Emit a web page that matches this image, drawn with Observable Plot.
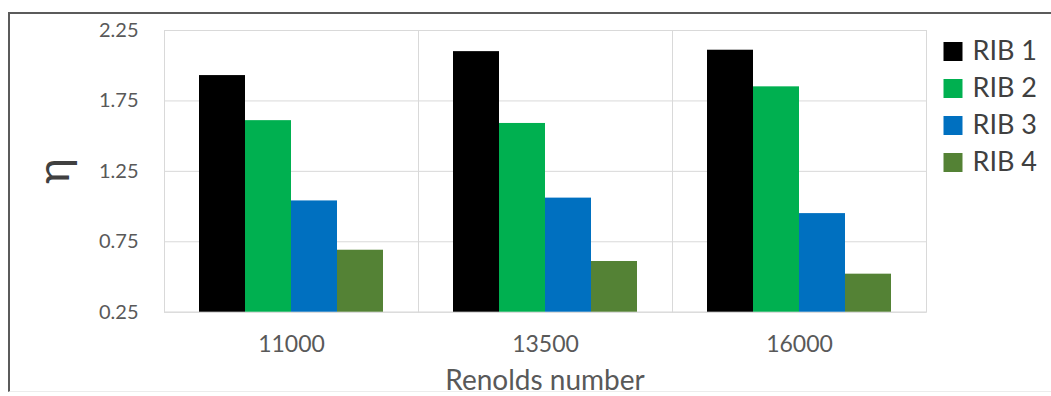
<!DOCTYPE html>
<html>
<head>
<meta charset="utf-8">
<script src="https://cdn.jsdelivr.net/npm/d3@7"></script>
<script src="https://cdn.jsdelivr.net/npm/@observablehq/plot@0.6"></script>
<style>
  body { margin: 0; background: #fff; }
  #wrap { position: relative; width: 1051px; height: 396px; overflow: hidden; background: #fff; font-family: Lato, "Open Sans", sans-serif; }
  #chart, #legend { position: absolute; }
  #chart { left: 0; top: 0; }
  #legend { left: 943px; top: 11.5px; }
  #outer { position: absolute; left: 8px; top: 12px; width: 1200px; height: 377px;
           border-top: 2px solid #5b5b5b; border-left: 2px solid #5b5b5b; border-bottom: 1px solid #ececec; }
  #ylabel { position: absolute; left: 0; top: 149px; width: 104px; height: 44px; line-height: 44px;
            text-align: center; font-size: 44px; color: #404040; transform: rotate(-90deg); }
  #xlabel { position: absolute; left: 163px; width: 764px; top: 365px; line-height: 1;
            text-align: center; font-size: 28px; color: #595959; }
</style>
</head>
<body>
<div id="wrap">
  <div id="chart"></div>
  <div id="legend"></div>
  <div id="outer"></div>
  <div id="ylabel">η</div>
  <div id="xlabel">Renolds number</div>
</div>
<script>
// Reynolds numbers (categories) and rib configurations (series)
const reynolds = ["11000", "13500", "16000"];
const ribs = ["RIB 1", "RIB 2", "RIB 3", "RIB 4"];

// η per Reynolds number, one array per rib
const rib1 = [1.93, 2.10, 2.11];
const rib2 = [1.61, 1.59, 1.85];
const rib3 = [1.04, 1.06, 0.95];
const rib4 = [0.69, 0.61, 0.52];

// y axis
const yTicks = [0.25, 0.75, 1.25, 1.75, 2.25];
const yMin = 0.25;
const yMax = 2.25;

const colors = ["#000000", "#00b050", "#0070c0", "#548235"];

const series = [rib1, rib2, rib3, rib4];
const data = reynolds.flatMap((re, i) =>
  ribs.map((rib, j) => ({re, rib, value: series[j][i]}))
);

const font = "Lato, 'Open Sans', sans-serif";

const chart = Plot.plot({
  width: 1051,
  height: 396,
  marginLeft: 163,
  marginRight: 124,
  marginTop: 30,
  marginBottom: 84.3,
  fx: {domain: reynolds, padding: 0, label: null},
  x: {domain: ribs, paddingInner: 0, paddingOuter: 0.74, axis: null},
  y: {domain: [yMin, yMax], label: null},
  color: {domain: ribs, range: colors},
  style: {fontFamily: font, background: "transparent"},
  marks: [
    Plot.gridY(yTicks, {stroke: "#d9d9d9", strokeOpacity: 1}),
    Plot.frame({stroke: "#d9d9d9"}),
    Plot.barY(data, {fx: "re", x: "rib", y1: yMin, y2: "value", fill: "rib"}),
    Plot.axisY(yTicks, {
      tickSize: 0, tickPadding: 26, fontSize: 20, fill: "#595959",
      tickFormat: d3.format(".2f"), label: null
    }),
    Plot.axisFx({
      anchor: "bottom", tickSize: 0, tickPadding: 23, fontSize: 23,
      fill: "#595959", label: null
    })
  ]
});
document.getElementById("chart").append(chart);

// Legend: one swatch and label per rib, stacked vertically
const legend = Plot.plot({
  width: 108,
  height: 188,
  marginTop: 20,
  marginBottom: 20,
  marginLeft: 0,
  marginRight: 0,
  y: {type: "point", domain: ribs, padding: 0.5, axis: null},
  color: {domain: ribs, range: colors},
  style: {fontFamily: font, background: "transparent"},
  marks: [
    Plot.dot(ribs, {y: d => d, fill: d => d, symbol: "square", r: 10.72, frameAnchor: "left", dx: 9.5}),
    Plot.text(ribs, {y: d => d, text: d => d, frameAnchor: "left", textAnchor: "start", dx: 29, fontSize: 27, fill: "#404040"})
  ]
});
document.getElementById("legend").append(legend);
</script>
</body>
</html>
